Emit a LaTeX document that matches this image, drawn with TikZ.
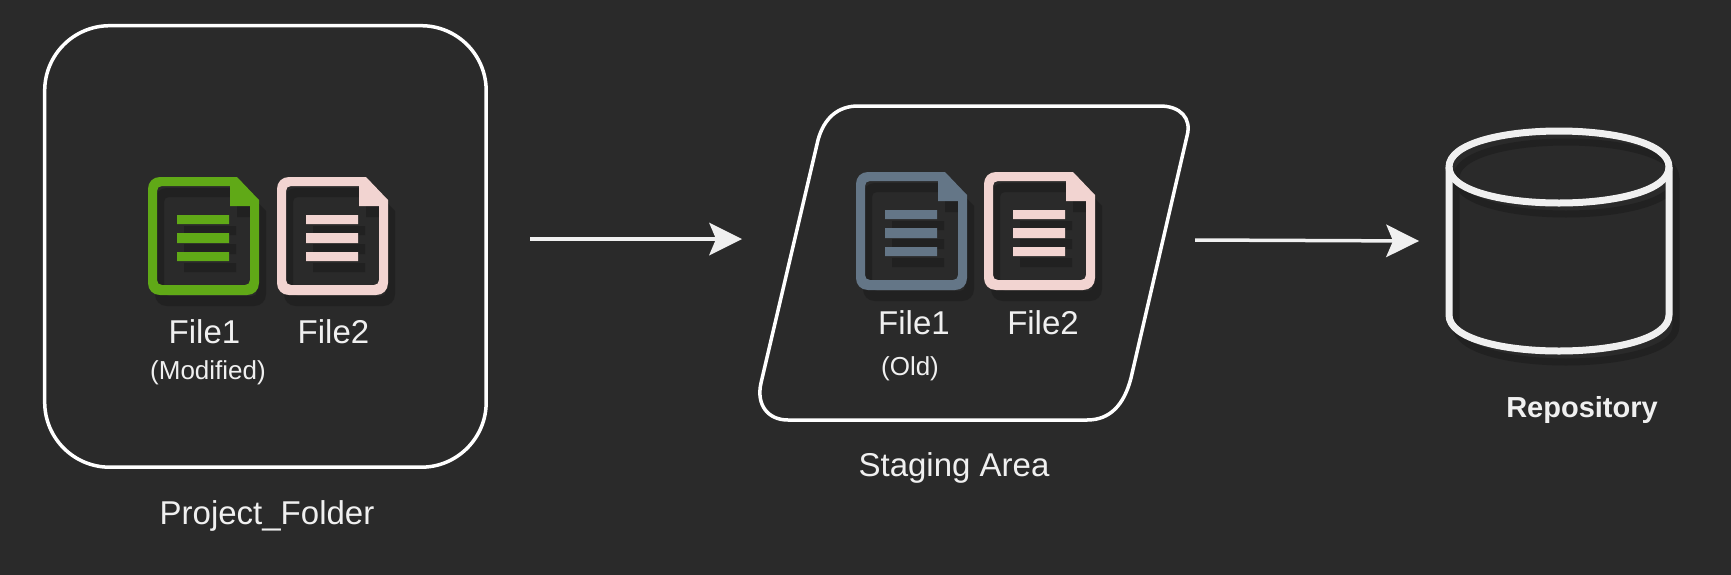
\documentclass[tikz,border=0pt]{standalone}
\usepackage{fontspec}
\setmainfont{Liberation Sans}
\usetikzlibrary{arrows.meta}
\definecolor{bgc}{HTML}{2A2A2A}
\definecolor{fgc}{HTML}{F0F0F0}
\definecolor{shadc}{HTML}{212121}
\definecolor{greenc}{HTML}{60A917}
\definecolor{slatec}{HTML}{647687}
\definecolor{pinkc}{HTML}{F2D4D1}
\newcommand{\docglyph}[1]{%
  \fill[#1,even odd rule]
    (0,12) .. controls (0,5) and (5,0) .. (12,0) -- (89,0) -- (111,23) -- (111,106)
    .. controls (111,113) and (106,118) .. (99,118) -- (12,118)
    .. controls (5,118) and (0,113) .. (0,106) -- cycle
    (9,14) .. controls (9,11) and (11,9) .. (14,9) -- (82,9) -- (82,29) -- (102,29) -- (102,103)
    .. controls (102,106) and (100,108) .. (97,108) -- (14,108)
    .. controls (11,108) and (9,106) .. (9,103) -- cycle;
  \fill[#1] (29,38) rectangle (81,47) (29,56) rectangle (81,66) (29,75) rectangle (81,84);
}
\tikzset{
  x=1pt,y=-1pt,
  pics/docicon/.style={code={
    \begin{scope}[shift={(7,11)}]\docglyph{shadc}\end{scope}
    \docglyph{#1}
  }},
  outline/.style={draw=white,line width=3.5pt,fill=none},
  flowarrow/.style={draw=fgc,line width=3.5pt,-{Stealth[length=33pt,width=33pt,inset=7pt,line width=0pt,fill=fgc]}},
  lab/.style={text=fgc,anchor=base,inner sep=0pt,font=\fontsize{33}{38}\selectfont},
  filelab/.style={text=fgc,anchor=base,inner sep=0pt,font=\fontsize{33}{38}\selectfont},
  sublab/.style={text=fgc,anchor=base,inner sep=0pt,font=\fontsize{26}{30}\selectfont},
  boldlab/.style={text=fgc,anchor=base,inner sep=0pt,font=\fontsize{29}{34}\selectfont\bfseries},
  cyl/.style={line width=7pt,line join=round},
}
\begin{document}
\begin{tikzpicture}
\useasboundingbox (0,0) rectangle (1731,574);
\fill[bgc] (-5,-5) rectangle (1736,579);
% project folder
\node[outline,rectangle,rounded corners=65pt,minimum width=441.5pt,minimum height=441.5pt,inner sep=0pt,outer sep=0pt,anchor=north west] (folder) at (44.7,25.7) {};
\pic (f1) at (148,177) {docicon=greenc};
\pic (f2) at (277,177) {docicon=pinkc};
\node[filelab] (f1t) at (204.5,343) {File1};
\node[filelab] (f2t) at (333.5,343) {File2};
\node[sublab] (f1s) at (208,379) {(Modified)};
\node[lab] (ft) at (267,524) {Project\_Folder};
% staging area
\draw[outline] (858,106) -- (1160,106) .. controls (1180,106) and (1192,118) .. (1187,136)
  -- (1131,378) .. controls (1124,405) and (1110,420) .. (1087,420)
  -- (788,420) .. controls (768,420) and (756,405) .. (761,383)
  -- (818,140) .. controls (824,118) and (838,106) .. (858,106) -- cycle;
\pic (s1) at (856,172) {docicon=slatec};
\pic (s2) at (984,172) {docicon=pinkc};
\node[filelab] (s1t) at (914,334) {File1};
\node[filelab] (s2t) at (1043,334) {File2};
\node[sublab] (s1s) at (910,375) {(Old)};
\node[lab] (st) at (954,476) {Staging Area};
% repository
\begin{scope}[shift={(7,11)}]
  \draw[cyl,shadc] (1449,167) .. controls (1449,119) and (1669,119) .. (1669,167)
    .. controls (1669,215) and (1449,215) .. (1449,167) -- cycle;
  \draw[cyl,shadc] (1449,167) -- (1449,315) .. controls (1449,363) and (1669,363) .. (1669,315) -- (1669,167);
\end{scope}
\draw[cyl,fgc] (1449,167) .. controls (1449,119) and (1669,119) .. (1669,167)
  .. controls (1669,215) and (1449,215) .. (1449,167) -- cycle;
\draw[cyl,fgc] (1449,167) -- (1449,315) .. controls (1449,363) and (1669,363) .. (1669,315) -- (1669,167);
\node[boldlab] (rt) at (1582,417) {Repository};
% arrows
\coordinate (a1s) at (530,239);
\coordinate (a1e) at (742,239);
\coordinate (a2s) at (1195,240);
\coordinate (a2e) at (1419,241);
\draw[flowarrow] (a1s) -- (a1e);
\draw[flowarrow] (a2s) -- (a2e);
\end{tikzpicture}
\end{document}
